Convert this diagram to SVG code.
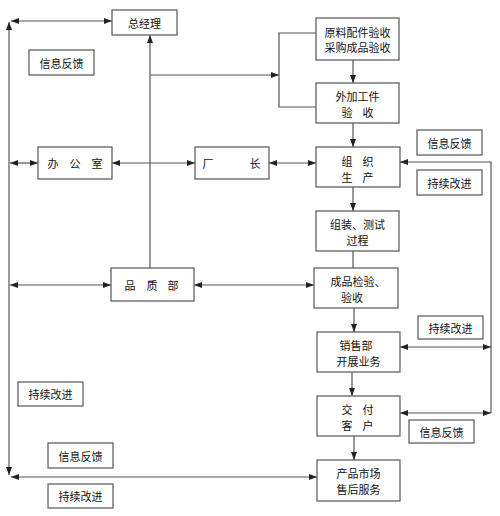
<svg xmlns="http://www.w3.org/2000/svg" width="500" height="516" viewBox="0 0 500 516">
<style>
.box{fill:#fff;stroke:#555;stroke-width:1.2}
.t{font-family:"Noto Sans CJK SC","Noto Sans",sans-serif;font-size:11px;fill:#111;text-anchor:middle;dominant-baseline:central}
.c{fill:none;stroke:#555;stroke-width:1.2}
</style>
<defs>
<marker id="ah" viewBox="0 0 8 6" refX="8" refY="3" markerWidth="8" markerHeight="6" orient="auto-start-reverse" markerUnits="userSpaceOnUse">
<path d="M0,0 L8,3 L0,6 z" fill="#222"/>
</marker>
</defs>
<rect width="500" height="516" fill="#fff"/>
<g id="connectors">
<line class="c" x1="11" y1="21" x2="112" y2="21" marker-start="url(#ah)" marker-end="url(#ah)"/>
<line class="c" x1="9" y1="475" x2="9" y2="22" marker-start="url(#ah)" marker-end="url(#ah)"/>
<line class="c" x1="11" y1="477" x2="317" y2="477" marker-start="url(#ah)" marker-end="url(#ah)"/>
<line class="c" x1="10" y1="163" x2="38" y2="163" marker-start="url(#ah)" marker-end="url(#ah)"/>
<line class="c" x1="112" y1="163" x2="195" y2="163" marker-start="url(#ah)" marker-end="url(#ah)"/>
<line class="c" x1="269" y1="163" x2="316" y2="163" marker-start="url(#ah)" marker-end="url(#ah)"/>
<line class="c" x1="10" y1="285" x2="111" y2="285" marker-start="url(#ah)" marker-end="url(#ah)"/>
<line class="c" x1="194" y1="285" x2="314" y2="285" marker-start="url(#ah)" marker-end="url(#ah)"/>
<line class="c" x1="150" y1="268" x2="150" y2="35" marker-end="url(#ah)"/>
<line class="c" x1="150" y1="75" x2="279" y2="75" marker-end="url(#ah)"/>
<path class="c" d="M316,33 H279 V107 H316"/>
<line class="c" x1="353" y1="60" x2="353" y2="83" marker-end="url(#ah)"/>
<line class="c" x1="353" y1="123" x2="353" y2="147" marker-end="url(#ah)"/>
<line class="c" x1="353" y1="187" x2="353" y2="211" marker-end="url(#ah)"/>
<line class="c" x1="353" y1="251" x2="353" y2="268"/>
<line class="c" x1="354" y1="308" x2="354" y2="332" marker-end="url(#ah)"/>
<line class="c" x1="352" y1="372" x2="352" y2="396" marker-end="url(#ah)"/>
<line class="c" x1="354" y1="436" x2="354" y2="460" marker-end="url(#ah)"/>
<path class="c" d="M491,413 V162 H400" marker-end="url(#ah)"/>
<line class="c" x1="400" y1="347" x2="491" y2="347" marker-start="url(#ah)" marker-end="url(#ah)"/>
<line class="c" x1="400" y1="413" x2="491" y2="413" marker-start="url(#ah)" marker-end="url(#ah)"/>
</g>
<g id="n-gm"><rect class="box" x="112" y="10" width="65" height="25"/><text class="t" x="144.5" y="22.5">总经理</text></g>
<g id="n-raw"><rect class="box" x="316" y="18" width="83" height="42"/><text class="t" x="357.5" y="31.5">原料配件验收</text><text class="t" x="357.5" y="47">采购成品验收</text></g>
<g id="n-ext"><rect class="box" x="316" y="83" width="83" height="40"/><text class="t" x="357.5" y="95.5">外加工件</text><text class="t" x="347 368" y="111.5">验收</text></g>
<g id="n-office"><rect class="box" x="38" y="147" width="74" height="32"/><text class="t" x="53 75 97" y="163">办公室</text></g>
<g id="n-fm"><rect class="box" x="195" y="147" width="74" height="32"/><text class="t" x="208 255" y="163">厂长</text></g>
<g id="n-prod"><rect class="box" x="316" y="147" width="84" height="40"/><text class="t" x="347 368" y="161">组织</text><text class="t" x="347 368" y="176.5">生产</text></g>
<g id="n-asm"><rect class="box" x="316" y="211" width="83" height="40"/><text class="t" x="357.5" y="224">组装、测试</text><text class="t" x="357.5" y="240">过程</text></g>
<g id="n-qa"><rect class="box" x="111" y="268" width="83" height="33"/><text class="t" x="130 152 173" y="284.5">品质部</text></g>
<g id="n-fin"><rect class="box" x="314" y="268" width="84" height="40"/><text class="t" x="358" y="281">成品检验、</text><text class="t" x="352" y="297">验收</text></g>
<g id="n-sales"><rect class="box" x="317" y="332" width="83" height="40"/><text class="t" x="356" y="344.5">销售部</text><text class="t" x="358.5" y="360.5">开展业务</text></g>
<g id="n-deliv"><rect class="box" x="317" y="396" width="83" height="40"/><text class="t" x="347 368" y="409">交付</text><text class="t" x="347 368" y="425">客户</text></g>
<g id="n-mkt"><rect class="box" x="317" y="460" width="83" height="41"/><text class="t" x="358.5" y="472.5">产品市场</text><text class="t" x="358.5" y="488.5">售后服务</text></g>
<g id="l-fb1"><rect class="box" x="29" y="50" width="65" height="25"/><text class="t" x="61.5" y="62.5">信息反馈</text></g>
<g id="l-fb2"><rect class="box" x="417" y="130" width="65" height="25"/><text class="t" x="449.5" y="142.5">信息反馈</text></g>
<g id="l-ci1"><rect class="box" x="417" y="170" width="65" height="25"/><text class="t" x="449.5" y="182.5">持续改进</text></g>
<g id="l-ci2"><rect class="box" x="418" y="316" width="65" height="23"/><text class="t" x="450.5" y="327.5">持续改进</text></g>
<g id="l-fb3"><rect class="box" x="409" y="420" width="65" height="23"/><text class="t" x="441.5" y="431.5">信息反馈</text></g>
<g id="l-ci3"><rect class="box" x="18" y="382" width="65" height="24"/><text class="t" x="50.5" y="394">持续改进</text></g>
<g id="l-fb4"><rect class="box" x="48" y="443" width="65" height="25"/><text class="t" x="80.5" y="455.5">信息反馈</text></g>
<g id="l-ci4"><rect class="box" x="48" y="484" width="65" height="24"/><text class="t" x="80.5" y="496">持续改进</text></g>
</svg>
